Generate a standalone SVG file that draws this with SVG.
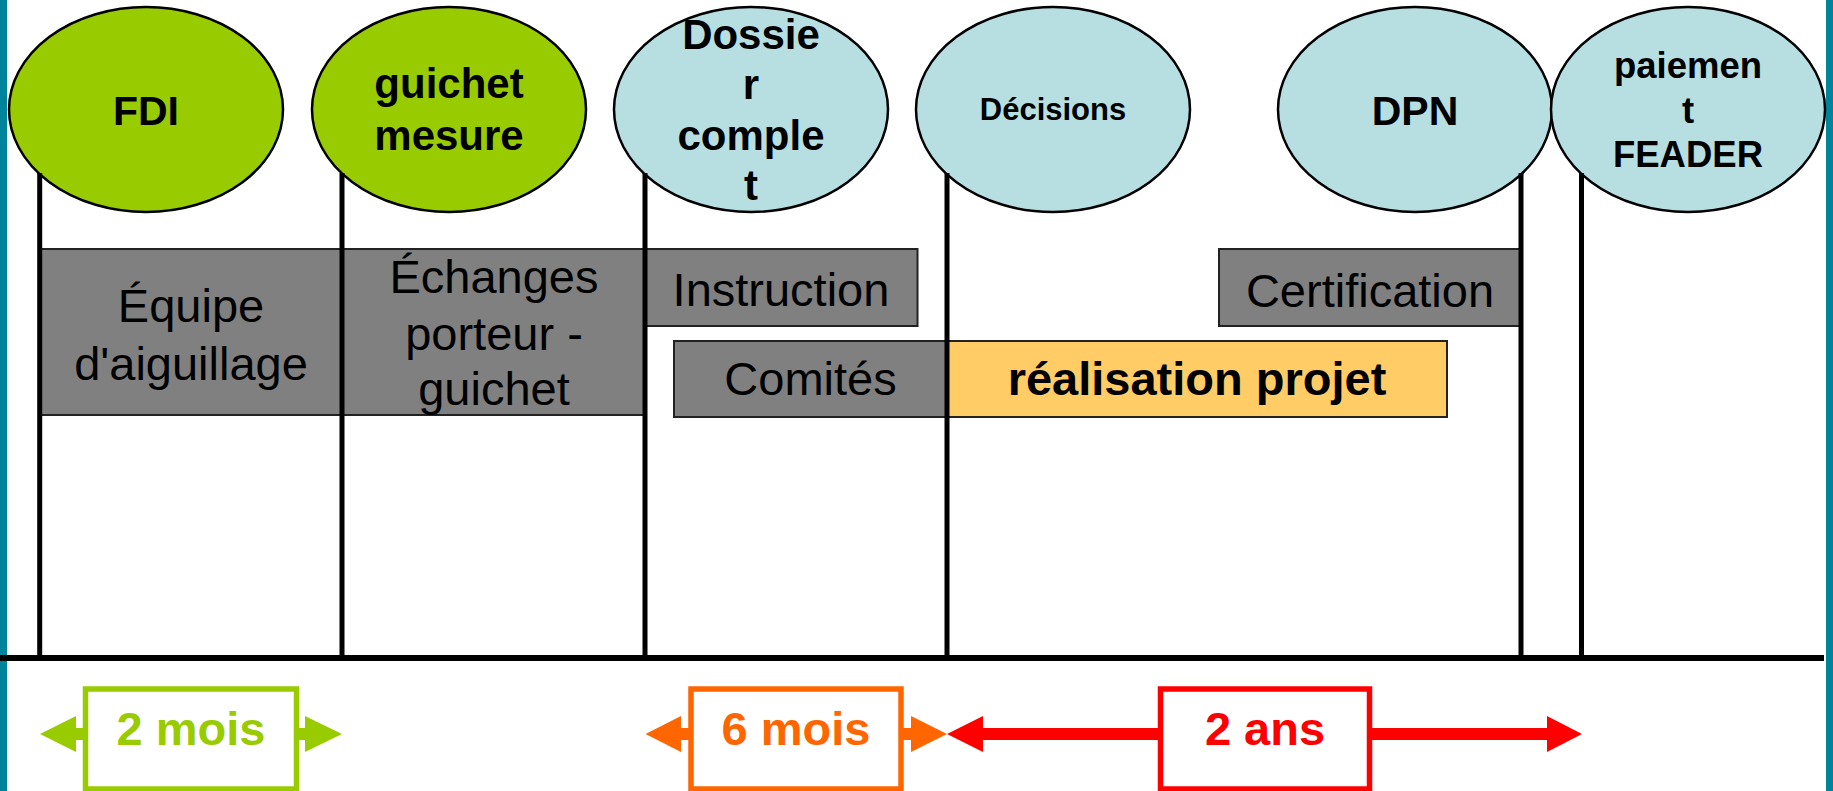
<svg xmlns="http://www.w3.org/2000/svg" width="1833" height="791" viewBox="0 0 1833 791">
<style>
.ell{stroke:#000;stroke-width:2.5}
.green{fill:#99CC00}
.blue{fill:#B7DFE2}
.box{fill:#808080;stroke:#222;stroke-width:2}
.yel{fill:#FFCC66;stroke:#222;stroke-width:2}
.t{font-family:"Liberation Sans",Arial,sans-serif;text-anchor:middle;fill:#000}
.b{font-weight:bold}
.vl{stroke:#000;stroke-width:5}
.dur{fill:#fff;stroke-width:5.5}
</style>
<rect x="0" y="0" width="1833" height="791" fill="#fff"/>
<rect x="0" y="0" width="7" height="791" fill="#00849C"/>
<rect x="1826" y="0" width="7" height="791" fill="#00849C"/>

<g id="node-fdi">
<ellipse class="ell green" cx="146" cy="109.5" rx="137" ry="102.5"/>
<text class="t b" x="146" y="125" font-size="41">FDI</text>
</g>
<g id="node-guichet">
<ellipse class="ell green" cx="449" cy="109.5" rx="137" ry="102.5"/>
<text class="t b" x="449" y="98" font-size="42">guichet</text>
<text class="t b" x="449" y="150" font-size="42">mesure</text>
</g>
<g id="node-dossier">
<ellipse class="ell blue" cx="751" cy="109.5" rx="137" ry="102.5"/>
<text class="t b" x="751" y="49" font-size="42">Dossie</text>
<text class="t b" x="751" y="99" font-size="42">r</text>
<text class="t b" x="751" y="150" font-size="42">comple</text>
<text class="t b" x="751" y="200" font-size="42">t</text>
</g>
<g id="node-decisions">
<ellipse class="ell blue" cx="1053" cy="109.5" rx="137" ry="102.5"/>
<text class="t b" x="1053" y="120" font-size="31">Décisions</text>
</g>
<g id="node-dpn">
<ellipse class="ell blue" cx="1415" cy="109.5" rx="137" ry="102.5"/>
<text class="t b" x="1415" y="125" font-size="41">DPN</text>
</g>
<g id="node-paiement">
<ellipse class="ell blue" cx="1688" cy="109.5" rx="137" ry="102.5"/>
<text class="t b" x="1688" y="78" font-size="36.5">paiemen</text>
<text class="t b" x="1688" y="123" font-size="36.5">t</text>
<text class="t b" x="1688" y="167" font-size="36.5">FEADER</text>
</g>

<g id="node-equipe">
<rect class="box" x="39.5" y="249" width="302.5" height="166"/>
<text class="t" x="191" y="322" font-size="47">Équipe</text>
<text class="t" x="191" y="380" font-size="47">d'aiguillage</text>
</g>
<g id="node-echanges">
<rect class="box" x="342" y="249" width="303" height="166"/>
<text class="t" x="494" y="293" font-size="47">Échanges</text>
<text class="t" x="494" y="350" font-size="47">porteur -</text>
<text class="t" x="494" y="405" font-size="47">guichet</text>
</g>
<g id="node-instruction">
<rect class="box" x="645" y="249" width="272.5" height="77"/>
<text class="t" x="781" y="306" font-size="47">Instruction</text>
</g>
<g id="node-certification">
<rect class="box" x="1219" y="249" width="302" height="77"/>
<text class="t" x="1370" y="307" font-size="47">Certification</text>
</g>
<g id="node-comites">
<rect class="box" x="674" y="341" width="273" height="76"/>
<text class="t" x="810.5" y="395" font-size="47">Comités</text>
</g>
<g id="node-realisation">
<rect class="yel" x="947" y="341" width="500" height="76"/>
<text class="t b" x="1197" y="395" font-size="47">réalisation projet</text>
</g>

<g id="connectors">
<line class="vl" x1="39.7" y1="173" x2="39.7" y2="658"/>
<line class="vl" x1="342" y1="173" x2="342" y2="658"/>
<line class="vl" x1="645" y1="173" x2="645" y2="658"/>
<line class="vl" x1="947" y1="173" x2="947" y2="658"/>
<line class="vl" x1="1521" y1="173" x2="1521" y2="658"/>
<line class="vl" x1="1581.5" y1="173" x2="1581.5" y2="658"/>
<line x1="0" y1="658" x2="1824" y2="658" stroke="#000" stroke-width="6"/>

<g id="dur-2mois">
<line x1="76" y1="734" x2="305" y2="734" stroke="#99CC00" stroke-width="12"/>
<polygon points="40,734 76,716 76,752" fill="#99CC00"/>
<polygon points="342,734 305,716 305,752" fill="#99CC00"/>
<rect class="dur" x="85.5" y="689" width="211" height="100" stroke="#99CC00"/>
<text class="t b" x="191" y="745" font-size="47" fill="#99CC00" style="fill:#99CC00">2 mois</text>
</g>
<g id="dur-6mois">
<line x1="681" y1="734" x2="911" y2="734" stroke="#FF6600" stroke-width="12"/>
<polygon points="645.5,734 681,716 681,752" fill="#FF6600"/>
<polygon points="947,734 911,716 911,752" fill="#FF6600"/>
<rect class="dur" x="691" y="689" width="210" height="100" stroke="#FF6600"/>
<text class="t b" x="796" y="745" font-size="47" style="fill:#FF6600">6 mois</text>
</g>
<g id="dur-2ans">
<line x1="983" y1="734" x2="1547" y2="734" stroke="#FF0000" stroke-width="12"/>
<polygon points="947,734 983,716 983,752" fill="#FF0000"/>
<polygon points="1582,734 1547,716 1547,752" fill="#FF0000"/>
<rect class="dur" x="1160.5" y="689" width="209" height="100" stroke="#FF0000"/>
<text class="t b" x="1265" y="745" font-size="47" style="fill:#FF0000">2 ans</text>
</g>
</g>
</svg>
